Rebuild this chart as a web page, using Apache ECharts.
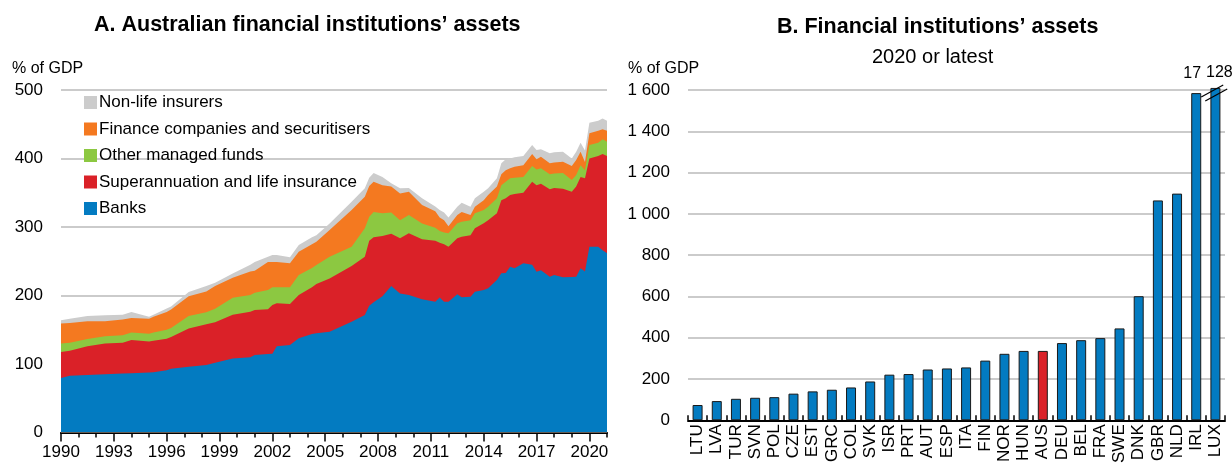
<!DOCTYPE html>
<html>
<head>
<meta charset="utf-8">
<script src="https://cdn.jsdelivr.net/npm/echarts@6/dist/echarts.min.js"></script>
<style>
html,body{margin:0;padding:0;background:#fff;}
#c{width:1232px;height:466px;}
</style>
</head>
<body>
<div id="c"></div>
<script>
// ---------- Panel A data (% of GDP) ----------
const periods = [1990.0,1990.5,1991.5,1992.5,1993.5,1994.0,1995.0,1995.25,1996.0,1996.25,1997.25,1998.25,1998.75,1999.75,2000.75,2001.0,2001.75,2002.0,2002.25,2003.0,2003.5,2004.25,2004.5,2005.25,2006.5,2007.25,2007.5,2007.75,2008.25,2008.75,2009.25,2009.75,2010.5,2011.25,2011.5,2011.75,2012.0,2012.5,2012.75,2013.25,2013.5,2014.0,2014.25,2014.75,2015.0,2015.25,2015.5,2015.75,2016.25,2016.75,2017.0,2017.25,2017.75,2018.0,2018.5,2019.0,2019.25,2019.5,2019.75,2020.0,2020.5,2020.75,2021.0];
const banks = [79.5,83,84,85,86,86.5,87.5,88,91,93,96,98.5,102,108,110,113,114.6,115,126,127.7,137.5,143.8,145,147,161.8,171.5,185,190,199,214,203,200.7,194.4,191,197,191,191,202,197.3,198,205.6,208,210.5,222.6,232.4,233,242,239.8,247,245,234.7,237,227.4,230,226.6,227,227.4,239.7,235,271,271,266,261.6];
const superLife = [38,36.5,42,45,45,48.5,45.5,46,46,46.5,56,59.5,59,64,66.4,66,65.2,71,62.6,59.9,63.2,68.2,71.8,78,81.2,85.2,95,95,88,76,80.5,90.1,87.6,89,80,84,80,81.5,88.4,90,92.4,97.4,99.5,97.4,106.6,108.9,104.7,108.2,103,121,126.3,126,127.6,127,129.4,124.5,131.6,133.3,136,129,132.6,140.6,142];
const otherFunds = [12.5,11.5,10.6,10.5,11,11,11,12,13,13.2,18,17.6,19.5,24.6,24.3,25,28.2,26,23.4,24.4,29.3,28,27.7,31.7,28,41.3,35,37,33,31,26.5,26.7,23,19,17,17,20,21.9,22.1,22,22,19.4,19.6,21.9,22,24.1,24.3,24,23,23,23,22.8,22,21,23,17.1,17,17,12,19.7,19.4,21.4,20.9];
const financeCos = [29,29,25.8,21.9,23,21,22,23,26,26.8,29,30.4,33.2,29.4,34.3,32,41,37,37,35,34,35,34.1,38.9,53.8,46,45,44,41,38,39,34,27,24,20,18,10,12.1,14.2,7.5,9.6,14.2,17.1,17.1,16,17,14.8,16,17,17.6,14.8,16.8,16,16,16.3,20.4,21.8,20,12,17.1,17.6,14.6,16.1];
const nonLife = [5,6,7.6,8.6,7,9,3,3,5,4.5,6,7.7,4.8,6,10,13,7.7,10,10,8.7,9.7,10,9.4,9.4,12.2,12.5,12,13,12,5,7.5,5.5,10,7,11,11,13,12.1,13.5,12.1,12.3,12.5,9.8,12,16,15.8,14.2,14,13.6,13.1,13.6,10.8,14.6,15,14.7,11,12.2,13,16.7,15.5,14.4,15.9,14.4];
const yearLabels = [1990,1993,1996,1999,2002,2005,2008,2011,2014,2017,2020];

// ---------- Panel B data (% of GDP, 2020 or latest) ----------
const countries = ['LTU','LVA','TUR','SVN','POL','CZE','EST','GRC','COL','SVK','ISR','PRT','AUT','ESP','ITA','FIN','NOR','HUN','AUS','DEU','BEL','FRA','SWE','DNK','GBR','NLD','IRL','LUX'];
const assets = [74,93,104,109,112,129,140,148,159,188,221,224,246,251,256,289,322,336,336,374,388,398,445,601,1065,1098,1585,1610];
const brokenLabels = {IRL:'17', LUX:'128'};
const highlight = 'AUS';

const FONT = '"Liberation Sans Narrow", "Arial Narrow", "Liberation Sans", Arial, sans-serif';
const C = {blue:'#037BC1', red:'#DA2128', green:'#8CC841', orange:'#F47920', grey:'#CCCCCC'};

const chart = echarts.init(document.getElementById('c'), null, {renderer:'canvas'});

// layers from bottom to top; cumulative tops are drawn as filled areas, largest first
const layers = [
  {name:'Banks', vals:banks, color:C.blue},
  {name:'Superannuation and life insurance', vals:superLife, color:C.red},
  {name:'Other managed funds', vals:otherFunds, color:C.green},
  {name:'Finance companies and securitisers', vals:financeCos, color:C.orange},
  {name:'Non-life insurers', vals:nonLife, color:C.grey}
];
let running = periods.map(()=>0);
const cumulative = layers.map(l => { running = running.map((r,i)=>r + l.vals[i]); return running.slice(); });

function areaSeries(layer, cum){
  return {name:layer.name, type:'line', xAxisIndex:0, yAxisIndex:0,
    data:periods.map((p,i)=>[p, +cum[i].toFixed(2)]),
    showSymbol:false, symbol:'none', smooth:false, lineStyle:{width:0}, itemStyle:{color:layer.color},
    areaStyle:{color:layer.color, opacity:1, origin:'start'}, emphasis:{disabled:true}, silent:true};
}
const areaList = layers.map((l,i)=>areaSeries(l, cumulative[i])).reverse();

const fmtThousands = v => v >= 1000 ? String(v).replace(/\B(?=(\d{3})+(?!\d))/g,' ') : String(v);

const option = {
  animation:false,
  backgroundColor:'#fff',
  textStyle:{fontFamily:FONT},
  graphic:[
    {type:'text', left:94, top:14, style:{text:'A. Australian financial institutions\u2019 assets', font:'bold 21.5px '+FONT, fill:'#000'}},
    {type:'text', left:12, top:61, style:{text:'% of GDP', font:'16px '+FONT, fill:'#000'}},
    {type:'text', left:777, top:16, style:{text:'B. Financial institutions\u2019 assets', font:'bold 21.5px '+FONT, fill:'#000'}},
    {type:'text', left:872, top:47, style:{text:'2020 or latest', font:'20px '+FONT, fill:'#000'}},
    {type:'text', left:628, top:61, style:{text:'% of GDP', font:'16px '+FONT, fill:'#000'}}
  ],
  legend:{
    data:['Non-life insurers','Finance companies and securitisers','Other managed funds','Superannuation and life insurance','Banks'],
    orient:'vertical', left:79, top:89, itemWidth:13, itemHeight:13, itemGap:9.5, icon:'rect',
    textStyle:{fontFamily:FONT, fontSize:17, color:'#000', padding:[0,0,0,-3]},
    selectedMode:false
  },
  grid:[
    {left:61, top:90, width:546, height:342.5},
    {left:688, top:90, width:537, height:337.6}
  ],
  xAxis:[
    {type:'value', gridIndex:0, min:1990, max:2021, interval:1,
      axisLine:{show:true, onZero:false, lineStyle:{color:'#000', width:2}},
      axisTick:{show:true, length:5, lineStyle:{color:'#000', width:1.5}},
      axisLabel:{show:false}, splitLine:{show:false}},
    {type:'value', gridIndex:0, min:1990, max:2021, position:'bottom',
      axisLine:{show:false},
      axisTick:{show:true, length:9, customValues:yearLabels, lineStyle:{color:'#000', width:1.5}},
      axisLabel:{show:true, customValues:yearLabels, fontFamily:FONT, fontSize:17, color:'#000', margin:11, formatter:v=>String(v)},
      splitLine:{show:false}},
    {type:'category', gridIndex:1, data:countries,
      axisLine:{show:true, lineStyle:{color:'#000', width:2}},
      axisTick:{show:true, inside:true, length:5, lineStyle:{color:'#000', width:1.5}},
      axisLabel:{rotate:90, fontFamily:FONT, fontSize:17, color:'#000', margin:4, interval:0},
      splitLine:{show:false}}
  ],
  yAxis:[
    {type:'value', gridIndex:0, min:0, max:500, interval:100,
      axisLine:{show:false}, axisTick:{show:false},
      axisLabel:{fontFamily:FONT, fontSize:17, color:'#000', margin:18},
      splitLine:{show:true, lineStyle:{color:'#cbcbcb', width:2}}},
    {type:'value', gridIndex:1, min:0, max:1600, interval:200,
      axisLine:{show:false}, axisTick:{show:false},
      axisLabel:{fontFamily:FONT, fontSize:17, color:'#000', margin:18, formatter:fmtThousands},
      splitLine:{show:true, lineStyle:{color:'#cbcbcb', width:2}}}
  ],
  series:[
    ...areaList,
    {name:'assets', type:'bar', xAxisIndex:2, yAxisIndex:1, barWidth:10, clip:false, silent:true,
      data:countries.map((c,i)=>{
        const d = {value:assets[i], itemStyle:{color: c===highlight ? C.red : C.blue, borderColor:'#1a1a1a', borderWidth:1}};
        if (brokenLabels[c]) {
          d.label = {show:true, position:'top', distance: c==='IRL' ? 12 : 7, offset: c==='IRL' ? [-4,0] : [4,0],
            formatter: brokenLabels[c], fontFamily:FONT, fontSize:16, color:'#000'};
        }
        return d;
      })},
    {name:'break', type:'custom', xAxisIndex:2, yAxisIndex:1, silent:true, z:10,
      data:[[countries.indexOf('IRL'), assets[countries.indexOf('IRL')]]],
      renderItem:(params, api)=>{
        const p = api.coord([api.value(0), api.value(1)]);
        return {type:'group', children:[
          {type:'line', shape:{x1:p[0]+5, y1:p[1]+4, x2:p[0]+27, y2:p[1]-8}, style:{stroke:'#000', lineWidth:1.2}},
          {type:'line', shape:{x1:p[0]+9, y1:p[1]+8, x2:p[0]+31, y2:p[1]-4}, style:{stroke:'#000', lineWidth:1.2}}
        ]};
      }}
  ]
};
chart.setOption(option);
</script>
</body>
</html>
